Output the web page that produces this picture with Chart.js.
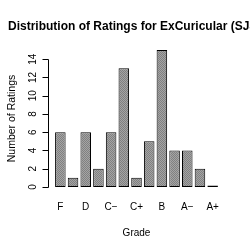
<!DOCTYPE html>
<html>
<head>
<meta charset="utf-8">
<script src="https://cdn.jsdelivr.net/npm/chart.js@4/dist/chart.umd.min.js"></script>
<style>
  html, body { margin: 0; padding: 0; background: #fff; }
  #chart { display: block; }
</style>
</head>
<body>
<canvas id="chart" width="250" height="250"></canvas>
<script>
// data
const grades = ['F', 'D-', 'D', 'D+', 'C-', 'C', 'C+', 'B-', 'B', 'B+', 'A-', 'A', 'A+'];
const gradeLabels = ['F', 'D\u2212', 'D', 'D+', 'C\u2212', 'C', 'C+', 'B\u2212', 'B', 'B+', 'A\u2212', 'A', 'A+'];
const counts = [6, 1, 6, 2, 6, 13, 1, 5, 15, 4, 4, 2, 0];
const yTicks = [0, 2, 4, 6, 8, 10, 12, 14];

const chartTitle = 'Distribution of Ratings for ExCuricular (SJSU)';
const fontFamily = '"Liberation Sans", Arial, Helvetica, sans-serif';

// checkered grey fill like the R bars
const makePattern = () => {
  const c = document.createElement('canvas');
  c.width = 2; c.height = 2;
  const g = c.getContext('2d');
  g.fillStyle = '#a4a4a4';
  g.fillRect(0, 0, 2, 2);
  g.fillStyle = '#808080';
  g.fillRect(0, 0, 1, 1);
  g.fillRect(1, 1, 1, 1);
  return g.createPattern(c, 'repeat');
};

// y axis line only spans the tick range, like R
const rAxisPlugin = {
  id: 'rAxis',
  afterDraw(chart) {
    const ctx = chart.ctx;
    const y = chart.scales.y;
    const x0 = chart.chartArea.left - 5.5;
    ctx.save();
    ctx.strokeStyle = '#000';
    ctx.lineWidth = 1;
    ctx.beginPath();
    ctx.moveTo(x0, Math.round(y.getPixelForValue(yTicks[0])) + 0.5);
    ctx.lineTo(x0, Math.round(y.getPixelForValue(yTicks[yTicks.length - 1])) + 0.5);
    yTicks.forEach(v => {
      const py = Math.round(y.getPixelForValue(v)) + 0.5;
      ctx.moveTo(x0, py);
      ctx.lineTo(x0 - 6, py);
    });
    ctx.stroke();

    // title is wider than the canvas, so draw it by hand (no squeezing)
    ctx.fillStyle = '#000';
    ctx.font = 'bold 12px ' + fontFamily;
    ctx.textBaseline = 'alphabetic';
    ctx.textAlign = 'left';
    ctx.fillText(chartTitle, 8, 30);
    ctx.restore();
  }
};

const ctx = document.getElementById('chart');

new Chart(ctx, {
  type: 'bar',
  data: {
    labels: gradeLabels,
    datasets: [{
      label: 'Ratings',
      data: counts,
      backgroundColor: makePattern(),
      borderColor: '#000',
      borderWidth: 1,
      borderSkipped: false,
      minBarLength: 1.5,
      barPercentage: 0.83,
      categoryPercentage: 1
    }]
  },
  options: {
    responsive: false,
    devicePixelRatio: 1,
    animation: false,
    layout: {
      padding: { left: 0, top: 50, right: 31, bottom: 0 }
    },
    plugins: {
      legend: { display: false },
      title: { display: false },
      tooltip: { enabled: false }
    },
    scales: {
      x: {
        grid: { display: false, drawTicks: false },
        border: { display: false },
        afterFit: (scale) => { scale.height = 63; },
        ticks: {
          color: '#000',
          font: { family: fontFamily, size: 10 },
          padding: 14,
          autoSkip: false,
          maxRotation: 0,
          callback: (v, i) => (i % 2 ? '' : gradeLabels[i])
        },
        title: {
          display: true,
          text: 'Grade',
          color: '#000',
          font: { family: fontFamily, size: 10 },
          padding: { top: 0, bottom: 11 }
        }
      },
      y: {
        min: 0,
        max: 15,
        afterFit: (scale) => { scale.width = 54; },
        grid: { display: false, drawTicks: false },
        border: { display: false },
        ticks: {
          stepSize: 2,
          includeBounds: false,
          color: '#000',
          font: { family: fontFamily, size: 10 },
          minRotation: 90,
          maxRotation: 90,
          crossAlign: 'center',
          padding: 15
        },
        title: {
          display: true,
          text: 'Number of Ratings',
          color: '#000',
          font: { family: fontFamily, size: 10.5 },
          padding: { top: 6, bottom: 8 }
        }
      }
    }
  },
  plugins: [rAxisPlugin]
});
</script>
</body>
</html>
